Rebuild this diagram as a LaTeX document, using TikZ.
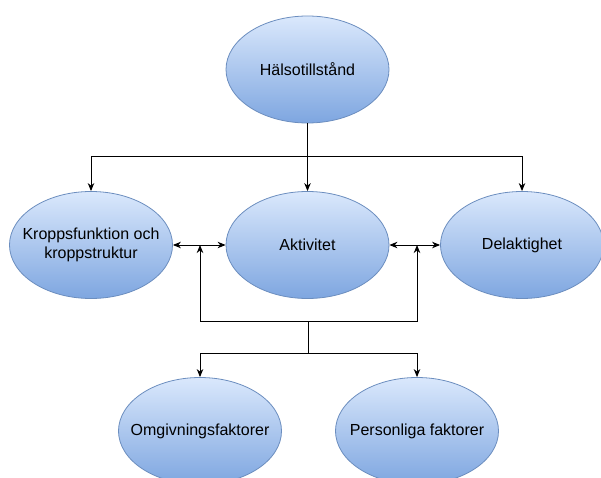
\documentclass[tikz,border=0pt]{standalone}
\usepackage{fontspec}
\setmainfont{Liberation Sans}
\usetikzlibrary{shapes.geometric,arrows.meta}
\definecolor{topc}{HTML}{DAE8FC}
\definecolor{botc}{HTML}{7EA6E0}
\definecolor{strokec}{HTML}{6C8EBF}
\tikzset{
  oval/.style={ellipse, draw=strokec, line width=0.8pt, top color=topc, bottom color=botc,
    minimum width=163pt, minimum height=107pt, inner sep=0pt},
  ovaltext/.style={align=center, inner sep=0pt, font=\fontsize{16}{19}\selectfont},
  conn/.style={line width=1pt, black},
  arr/.style={conn, -{Stealth[length=8pt,width=6.5pt,inset=2.5pt]}},
  darr/.style={conn, {Stealth[length=8pt,width=6.5pt,inset=2.5pt]}-{Stealth[length=8pt,width=6.5pt,inset=2.5pt]}}
}
\begin{document}
\begin{tikzpicture}[x=1pt,y=-1pt]
\useasboundingbox (0,0) rectangle (601,478);
\node[oval] (hal) at (307.5,69.5) {};
\node[oval] (kf) at (91,245) {};
\node[oval] (akt) at (307.5,245) {};
\node[oval] (del) at (522,245) {};
\node[oval] (omg) at (200,431) {};
\node[oval] (per) at (417,431) {};
\node[ovaltext] (thal) at (hal.center) {Hälsotillstånd};
\node[ovaltext] (tkf) at (kf.center) {Kroppsfunktion och\\kroppstruktur};
\node[ovaltext] (takt) at (akt.center) {Aktivitet};
\node[ovaltext] (tdel) at (del.center) {Delaktighet};
\node[ovaltext] (tomg) at (omg.center) {Omgivningsfaktorer};
\node[ovaltext] (tper) at (per.center) {Personliga faktorer};
\coordinate (h) at (307.5,157);
\coordinate (jl) at (200,245);
\coordinate (jr) at (417,245);
\coordinate (bm) at (308.5,321);
\coordinate (bb) at (308.5,353);
\draw[arr] (hal.south) -- (akt.north);
\draw[arr] (h) -| (kf.north);
\draw[arr] (h) -| (del.north);
\draw[darr] (kf.east) -- (akt.west);
\draw[darr] (akt.east) -- (del.west);
\draw[arr] (bm) -| (jl);
\draw[arr] (bm) -| (jr);
\draw[conn] (bm) -- (bb);
\draw[arr] (bb) -| (omg.north);
\draw[arr] (bb) -| (per.north);
\end{tikzpicture}
\end{document}
